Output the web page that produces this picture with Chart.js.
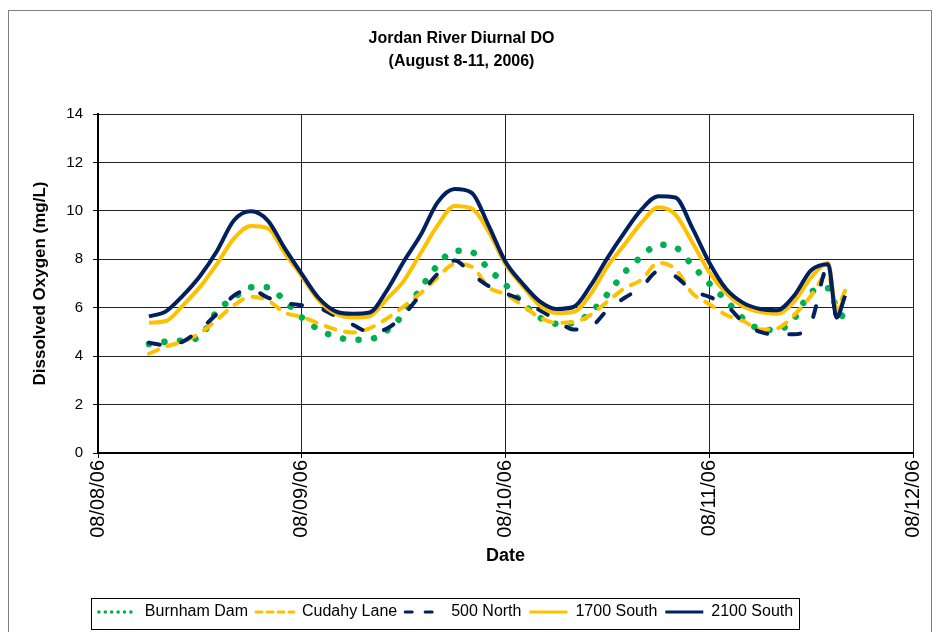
<!DOCTYPE html>
<html>
<head>
<meta charset="utf-8">
<title>Jordan River Diurnal DO</title>
<script src="https://cdn.jsdelivr.net/npm/chart.js@4.4.1/dist/chart.umd.min.js"></script>
<style>
  html, body { margin: 0; padding: 0; background: #fff; }
</style>
</head>
<body>
<canvas id="doChart" width="939" height="632"></canvas>
<script>
// hours after midnight 08/08/06
const hours = [6, 8, 10, 12, 14, 16, 18, 20, 22, 24, 26, 28, 30, 32, 34, 36, 38, 40, 42, 44, 46,
    48, 50, 52, 54, 56, 58, 60, 62, 64, 66, 68, 70, 72, 74, 76, 78, 80, 82, 84, 86, 87, 88];
const dateLabels = ['08/08/06', '08/09/06', '08/10/06', '08/11/06', '08/12/06'];
const yTicks = [0, 2, 4, 6, 8, 10, 12, 14];

// dissolved oxygen, mg/L
const burnhamDam = [4.5, 4.6, 4.65, 4.8, 5.85, 6.4, 6.84, 6.84, 6.28, 5.6, 5.1, 4.8, 4.68, 4.7, 5.05,
    5.75, 6.8, 7.75, 8.35, 8.3, 7.6, 6.95, 6.2, 5.6, 5.34, 5.36, 5.8, 6.55, 7.45, 8.1, 8.6, 8.5,
    7.75, 7.0, 6.3, 5.55, 5.12, 5.08, 5.55, 6.65, 6.8, 6.0, 5.5];
const cudahyLane = [4.1, 4.4, 4.6, 4.95, 5.5, 6.1, 6.45, 6.3, 5.8, 5.62, 5.35, 5.1, 4.98, 5.15, 5.55,
    6.05, 6.6, 7.25, 7.8, 7.7, 6.85, 6.55, 6.1, 5.6, 5.38, 5.4, 5.7, 6.25, 6.8, 7.15, 7.85, 7.6,
    6.6, 6.15, 5.7, 5.45, 5.1, 5.15, 5.7, 6.5, 7.4, 6.0, 6.7];
const north500 = [4.55, 4.45, 4.6, 5.1, 5.75, 6.5, 6.75, 6.42, 6.2, 6.1, 6.0, 5.65, 5.3, 5.0, 5.13,
    5.7, 6.55, 7.4, 7.95, 7.4, 6.9, 6.6, 6.3, 5.9, 5.5, 5.1, 5.2, 5.9, 6.4, 6.84, 7.5, 7.3,
    6.7, 6.45, 6.1, 5.4, 5.0, 4.9, 4.9, 5.4, 7.7, 5.6, 6.6];
const south1700 = [5.38, 5.45, 6.1, 6.85, 7.8, 8.85, 9.37, 9.28, 8.25, 7.3, 6.3, 5.75, 5.6, 5.65, 6.35,
    7.1, 8.25, 9.4, 10.2, 10.1, 9.15, 7.8, 6.9, 6.1, 5.78, 5.82, 6.55, 7.7, 8.6, 9.5, 10.15, 9.85,
    8.7, 7.47, 6.6, 6.05, 5.82, 5.75, 6.25, 7.25, 7.85, 5.85, 6.4];
const south2100 = [5.64, 5.85, 6.5, 7.3, 8.33, 9.6, 9.98, 9.6, 8.45, 7.4, 6.4, 5.85, 5.75, 5.8, 6.7,
    7.9, 9.0, 10.35, 10.9, 10.75, 9.4, 7.9, 7.0, 6.27, 5.95, 6.03, 6.9, 8.05, 9.1, 10.05, 10.6, 10.55,
    9.3, 7.87, 6.77, 6.2, 5.95, 5.9, 6.5, 7.55, 7.8, 5.6, 6.5];

const NAVY = '#002060';
const GOLD = '#FFC000';
const GREEN = '#00B050';
const FONT = "'Liberation Sans', Arial, Helvetica, sans-serif";

function points(values) {
    return hours.map((h, i) => ({ x: h, y: values[i] }));
}

// small legend samples: width and dash pattern per series
const legendWidth = [3.5, 3, 3, 3, 3];
const legendDash = [[0.1, 6.3], [6, 5], [7, 13], [], []];

// white page with a grey frame, and a box round the legend
const framePlugin = {
    id: 'frame',
    afterLayout(chart) {
        const lg = chart.legend;
        const shift = 446 - (lg.left + lg.right) / 2;
        lg.left += shift;
        lg.right += shift;
    },
    beforeDraw(chart) {
        const ctx = chart.ctx;
        ctx.save();
        ctx.fillStyle = '#fff';
        ctx.fillRect(0, 0, chart.width, chart.height);
        ctx.strokeStyle = '#808080';
        ctx.lineWidth = 1;
        ctx.strokeRect(8.5, 10.5, 923, 700);
        ctx.restore();
    },
    afterDraw(chart) {
        const boxes = chart.legend.legendHitBoxes;
        if (!boxes || !boxes.length) return;
        const left = Math.min(...boxes.map(b => b.left));
        const right = Math.max(...boxes.map(b => b.left + b.width));
        const ctx = chart.ctx;
        ctx.save();
        ctx.strokeStyle = '#000';
        ctx.lineWidth = 1;
        ctx.strokeRect(Math.round(left - 8) + 0.5, 598.5, Math.round(right - left + 14), 31);
        ctx.restore();
    }
};

const ctx = document.getElementById('doChart').getContext('2d');
const doChart = new Chart(ctx, {
    type: 'line',
    data: {
        datasets: [{
            label: 'Burnham Dam',
            data: points(burnhamDam),
            borderColor: GREEN,
            backgroundColor: GREEN,
            borderWidth: 6.5,
            borderDash: [0.1, 15.5],
            borderCapStyle: 'round',
            order: 5
        }, {
            label: 'Cudahy Lane',
            data: points(cudahyLane),
            borderColor: GOLD,
            backgroundColor: GOLD,
            borderWidth: 4,
            borderDash: [10, 10],
            borderCapStyle: 'round',
            order: 4
        }, {
            label: '500 North',
            data: points(north500),
            borderColor: NAVY,
            backgroundColor: NAVY,
            borderWidth: 4,
            borderDash: [11, 22],
            borderCapStyle: 'round',
            order: 3
        }, {
            label: '1700 South',
            data: points(south1700),
            borderColor: GOLD,
            backgroundColor: GOLD,
            borderWidth: 4,
            order: 2
        }, {
            label: '2100 South',
            data: points(south2100),
            borderColor: NAVY,
            backgroundColor: NAVY,
            borderWidth: 4,
            order: 1
        }]
    },
    options: {
        responsive: false,
        animation: false,
        cubicInterpolationMode: 'monotone',
        elements: {
            point: { radius: 0, hoverRadius: 0 },
            line: { borderJoinStyle: 'round', fill: false }
        },
        layout: { padding: { left: 10, right: 26, top: 0, bottom: 2 } },
        plugins: {
            title: {
                display: true,
                text: ['Jordan River Diurnal DO', '(August 8-11, 2006)'],
                color: '#000',
                font: { family: FONT, size: 16, weight: 'bold', lineHeight: 23 / 16 },
                padding: { top: 27, bottom: 41 }
            },
            legend: {
                position: 'bottom',
                labels: {
                    color: '#000',
                    font: { family: FONT, size: 16 },
                    padding: 8,
                    usePointStyle: true,
                    pointStyle: 'line',
                    pointStyleWidth: 38,
                    sort: (a, b) => a.datasetIndex - b.datasetIndex,
                    generateLabels: chart => Chart.defaults.plugins.legend.labels.generateLabels(chart).map(item => {
                        item.lineWidth = legendWidth[item.datasetIndex];
                        item.lineDash = legendDash[item.datasetIndex];
                        item.lineCap = item.lineDash.length ? 'round' : 'butt';
                        return item;
                    })
                }
            },
            tooltip: { enabled: false }
        },
        scales: {
            x: {
                type: 'linear',
                min: 0,
                max: 96,
                afterFit: scale => { scale.height = 143; },
                ticks: {
                    stepSize: 24,
                    autoSkip: false,
                    minRotation: 90,
                    maxRotation: 90,
                    padding: 2,
                    color: '#000',
                    font: { family: FONT, size: 20 },
                    callback: value => dateLabels[value / 24]
                },
                grid: { color: '#222', tickColor: '#000', tickLength: 5 },
                border: { color: '#000', width: 2 },
                title: {
                    display: true,
                    text: 'Date',
                    color: '#000',
                    font: { family: FONT, size: 18, weight: 'bold' },
                    padding: { top: 4, bottom: 29 }
                }
            },
            y: {
                min: yTicks[0],
                max: yTicks[yTicks.length - 1],
                afterFit: scale => { scale.width = 88; },
                ticks: {
                    stepSize: 2,
                    padding: 10,
                    color: '#000',
                    font: { family: FONT, size: 15 }
                },
                grid: { color: '#222', tickColor: '#000', tickLength: 5 },
                border: { color: '#000', width: 2 },
                title: {
                    display: true,
                    text: 'Dissolved Oxygen (mg/L)',
                    color: '#000',
                    font: { family: FONT, size: 17, weight: 'bold' },
                    padding: { top: 20, bottom: 0 }
                }
            }
        }
    },
    plugins: [framePlugin]
});
</script>
</body>
</html>
